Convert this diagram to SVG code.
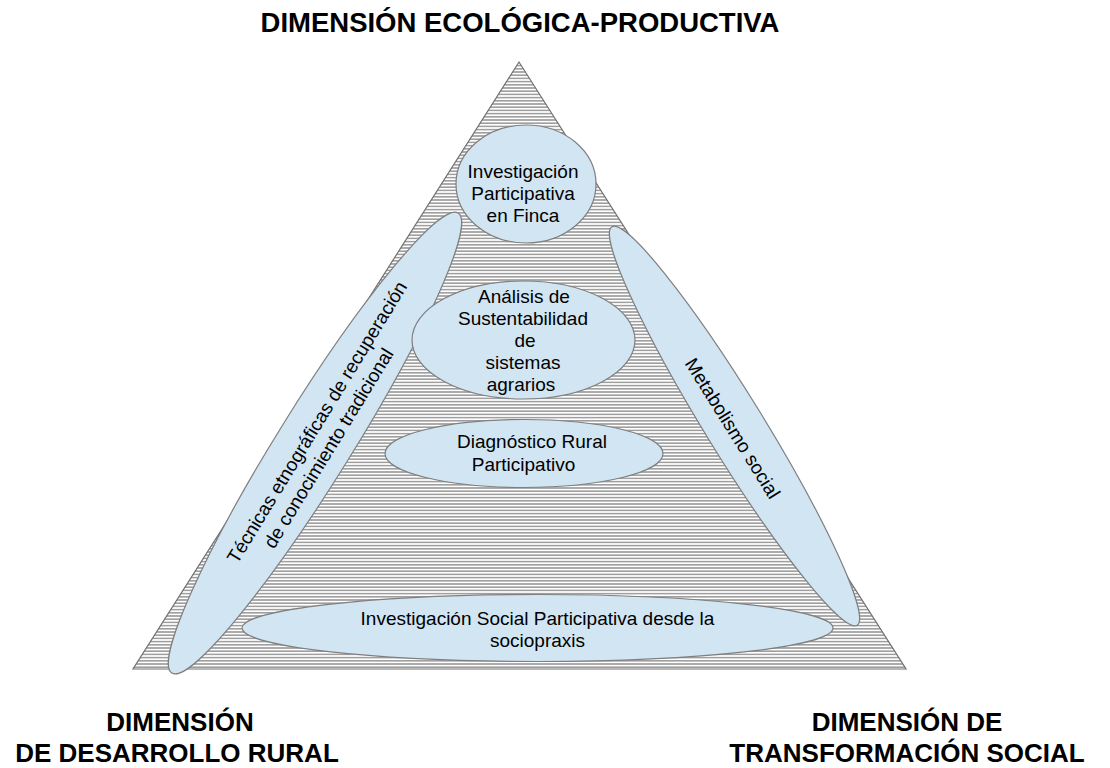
<svg xmlns="http://www.w3.org/2000/svg" width="1110" height="768" viewBox="0 0 1110 768">
<style>
.t{font-family:"Liberation Sans",Arial,sans-serif;font-size:19px;fill:#000;text-anchor:middle}
.h{font-family:"Liberation Sans",Arial,sans-serif;font-size:26px;font-weight:bold;fill:#000;text-anchor:middle}
.e{fill:#d1e5f3;stroke:#7f7f7f;stroke-width:1.2}
</style>
<defs>
<pattern id="hatch" patternUnits="userSpaceOnUse" width="20" height="3.2">
<rect x="0" y="0" width="20" height="3.2" fill="#fff"/>
<rect x="0" y="1" width="20" height="1.2" fill="#808080"/>
</pattern>
</defs>
<rect width="1110" height="768" fill="#fff"/>
<g id="labels">
<text class="h" x="520" y="32" style="font-size:27.5px">DIMENSIÓN ECOLÓGICA-PRODUCTIVA</text>
<text class="h" x="180" y="731">DIMENSIÓN</text>
<text class="h" x="177" y="762">DE DESARROLLO RURAL</text>
<text class="h" x="907" y="731">DIMENSIÓN DE</text>
<text class="h" x="907" y="762">TRANSFORMACIÓN SOCIAL</text>
</g>
<g id="triangle">
<polygon points="519,62 133,669 906,669" fill="url(#hatch)" stroke="#707070" stroke-width="1.2"/>
</g>
<g id="connectors"></g>
<g id="node-tecnicas">
<ellipse class="e" cx="315" cy="443" rx="271" ry="37" transform="rotate(-58.1 315 443)"/>
<g transform="translate(322.4,434.9) rotate(-58.5)">
<text class="t" x="8" y="-4.7">Técnicas etnográficas de recuperación</text>
<text class="t" x="-8" y="18.7">de conocimiento tradicional</text>
</g>
</g>
<g id="node-metabolismo">
<ellipse class="e" cx="734.5" cy="426" rx="234" ry="29" transform="rotate(58.4 734.5 426)"/>
<text class="t" transform="translate(733,428) rotate(58)" x="0" y="7">Metabolismo social</text>
</g>
<g id="node-finca">
<ellipse class="e" cx="526" cy="184" rx="70" ry="59"/>
<text class="t" x="523" y="178">Investigación</text>
<text class="t" x="523" y="200">Participativa</text>
<text class="t" x="523" y="222">en Finca</text>
</g>
<g id="node-sustentabilidad">
<ellipse class="e" cx="523.5" cy="340" rx="111.5" ry="59"/>
<text class="t" x="524" y="303">Análisis de</text>
<text class="t" x="523" y="325">Sustentabilidad</text>
<text class="t" x="525" y="347">de</text>
<text class="t" x="523" y="369">sistemas</text>
<text class="t" x="521" y="391">agrarios</text>
</g>
<g id="node-diagnostico">
<ellipse class="e" cx="524" cy="453.5" rx="139" ry="34"/>
<text class="t" x="532" y="448">Diagnóstico Rural</text>
<text class="t" x="523.5" y="471">Participativo</text>
</g>
<g id="node-socioprax">
<ellipse class="e" cx="537.5" cy="628" rx="295.5" ry="33.5"/>
<text class="t" x="537.5" y="625">Investigación Social Participativa desde la</text>
<text class="t" x="537.5" y="647">sociopraxis</text>
</g>
</svg>
